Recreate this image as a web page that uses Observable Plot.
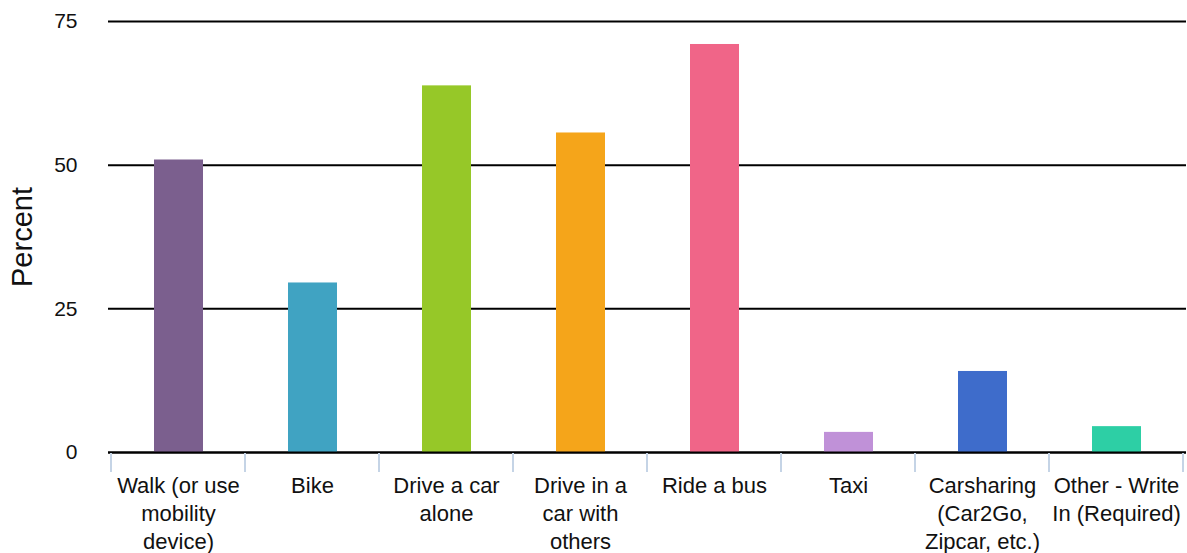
<!DOCTYPE html>
<html><head><meta charset="utf-8">
<script src="https://cdn.jsdelivr.net/npm/d3@7"></script>
<script src="https://cdn.jsdelivr.net/npm/@observablehq/plot@0.6"></script>
<style>body{margin:0;background:#fff} svg{display:block}</style>
</head><body><div id="chart"></div>
<script>
const categories = ["Walk (or use\nmobility\ndevice)", "Bike", "Drive a car\nalone", "Drive in a\ncar with\nothers", "Ride a bus", "Taxi", "Carsharing\n(Car2Go,\nZipcar, etc.)", "Other - Write\nIn (Required)"];
const percents = [50.9, 29.5, 63.8, 55.6, 71.0, 3.5, 14.1, 4.5];
const colors = ["#7B5F8E", "#40A3C2", "#96C828", "#F5A51A", "#F06588", "#C091D8", "#3E6CCB", "#2DCFA5"];
const yTicks = [0, 25, 50, 75];
const yLabel = "Percent";

const data = categories.map((c, i) => ({category: c, percent: percents[i], color: colors[i]}));

const boundaryTicks = (index, scales, values, dims) => {
  const x = scales.x;
  const bw = x.bandwidth ? x.bandwidth() : (dims.width - dims.marginLeft - dims.marginRight) / categories.length;
  const y0 = scales.y(0);
  const g = d3.create("svg:g").attr("stroke", "#c5d4e6").attr("stroke-width", 2);
  const xs = categories.map(c => x(c)).concat([x(categories[categories.length - 1]) + bw]);
  for (const xv of xs) {
    g.append("line").attr("x1", xv).attr("x2", xv).attr("y1", y0 + 1).attr("y2", y0 + 20);
  }
  return g.node();
};

const chart = Plot.plot({
  width: 1187,
  height: 553,
  marginLeft: 108,
  marginRight: 1,
  marginTop: 21,
  marginBottom: 101,
  style: {fontFamily: "'Liberation Sans', Arial, sans-serif", color: "#111", background: "#fff"},
  x: {domain: categories, padding: 0, label: null},
  y: {domain: [0, 75], label: null},
  marks: [
    Plot.gridY(yTicks, {stroke: "#000", strokeOpacity: 1, strokeWidth: 2}),
    Plot.barY(data, {x: "category", y: "percent", fill: "color", insetLeft: 43, insetRight: 42}),
    Plot.ruleY([0], {stroke: "#000", strokeWidth: 2}),
    boundaryTicks,
    Plot.axisY(yTicks, {tickSize: 0, tickPadding: 31, fontSize: 21, label: null}),
    Plot.axisX({tickSize: 0, tickPadding: 21, fontSize: 22, lineHeight: 1.27, label: null}),
    Plot.text([yLabel], {frameAnchor: "left", textAnchor: "middle", lineAnchor: "middle", rotate: -90, dx: -86, fontSize: 29, fill: "#111"})
  ]
});
document.getElementById("chart").appendChild(chart);
</script>
</body></html>
